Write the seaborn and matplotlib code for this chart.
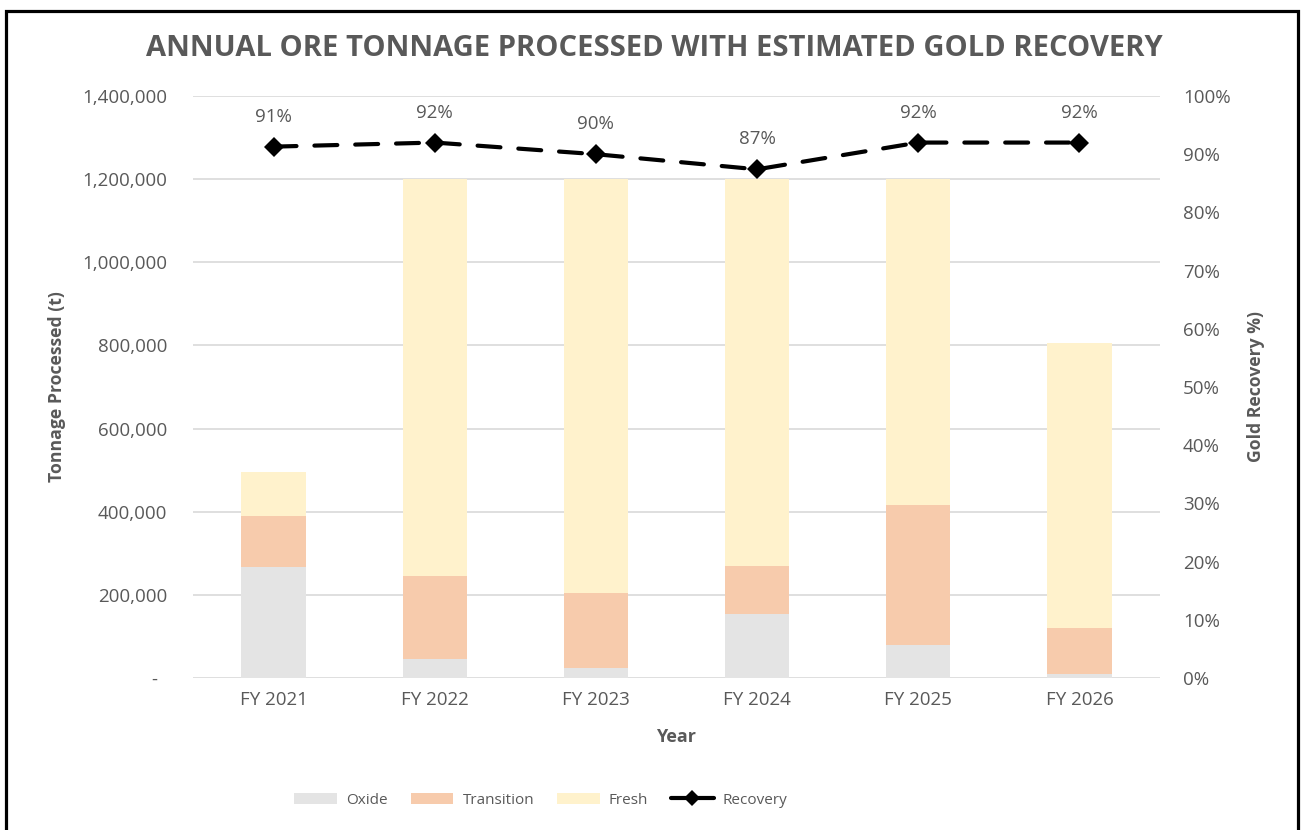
import numpy as np
import pandas as pd
import matplotlib
matplotlib.use("Agg")
import matplotlib.pyplot as plt
from matplotlib.patches import Patch, Rectangle
from matplotlib.lines import Line2D
from matplotlib.ticker import FuncFormatter, PercentFormatter, MultipleLocator
import seaborn as sns

# ---- data ----
years = ["FY 2021", "FY 2022", "FY 2023", "FY 2024", "FY 2025", "FY 2026"]
oxide = [268000, 45000, 25000, 155000, 80000, 10000]
transition = [122000, 200000, 180000, 115000, 335000, 110000]
fresh = [105000, 955000, 995000, 930000, 785000, 685000]
recovery = [0.913, 0.920, 0.900, 0.874, 0.920, 0.920]

C_OXIDE = "#E4E4E4"
C_TRANS = "#F7CBAC"
C_FRESH = "#FFF2CC"
TXT = "#595959"

sns.set_theme(style="white")
plt.rcParams["font.family"] = ["Open Sans", "DejaVu Sans"]

df = pd.DataFrame({"year": years, "oxide": oxide, "transition": transition,
                   "fresh": fresh, "recovery": recovery})
df["lvl2"] = df["oxide"] + df["transition"]
df["total"] = df["lvl2"] + df["fresh"]

fig = plt.figure(figsize=(13.01, 8.30), dpi=100)
ax = fig.add_axes([193 / 1301, 1 - 678 / 830, (1160 - 193) / 1301, (678 - 96) / 830])

for col, c in [("total", C_FRESH), ("lvl2", C_TRANS), ("oxide", C_OXIDE)]:
    sns.barplot(data=df, x="year", y=col, color=c, saturation=1, width=0.4,
                errorbar=None, ax=ax, linewidth=0)

ax.set_xlim(-0.5, len(years) - 0.5)
ax.set_ylim(0, 1400000)
ax.yaxis.set_major_locator(MultipleLocator(200000))
ax.yaxis.set_major_formatter(FuncFormatter(lambda v, p: "-  " if v == 0 else f"{v:,.0f}"))
ax.grid(axis="y", color="#D9D9D9", linewidth=1.2)
ax.grid(axis="x", visible=False)
ax.set_axisbelow(True)
for s in ax.spines.values():
    s.set_visible(False)
ax.tick_params(axis="y", length=0, pad=18.5, labelsize=13.5, labelcolor=TXT)
ax.tick_params(axis="x", length=0, pad=9, labelsize=13.5, labelcolor=TXT)
ax.set_ylabel("Tonnage Processed (t)", fontsize=12.7, fontweight="bold", color=TXT)
ax.set_xlabel("Year", fontsize=13, fontweight="bold", color=TXT)
ax.yaxis.set_label_coords((66 - 193) / 967, 0.5)
ax.xaxis.set_label_coords(0.5, -(728 - 678) / 582)

ax2 = ax.twinx()
sns.lineplot(x=np.arange(len(years)), y=df["recovery"], ax=ax2, color="black",
             linewidth=3, marker="D", markersize=10, markeredgewidth=0)
ln = ax2.lines[0]
ln.set_dashes((5.5, 4.3))
ln.set_dash_capstyle("round")
ax2.set_ylim(0, 1.0)
ax2.yaxis.set_major_locator(MultipleLocator(0.1))
ax2.yaxis.set_major_formatter(PercentFormatter(xmax=1, decimals=0))
ax2.grid(False)
for s in ax2.spines.values():
    s.set_visible(False)
ax2.tick_params(axis="y", length=0, pad=16.5, labelsize=13.5, labelcolor=TXT)
ax2.set_ylabel("Gold Recovery %)", fontsize=12.7, fontweight="bold", color=TXT)
ax2.yaxis.set_label_coords((1247 - 193) / 967, 0.5)
ax2.set_xlim(-0.5, len(years) - 0.5)

for i, v in enumerate(recovery):
    ax2.annotate(f"{v:.0%}", (i, v), xytext=(0, 21.5), textcoords="offset points",
                 ha="center", va="center", fontsize=13.5, color=TXT)

fig.text(0.503, 1 - 48 / 830, "ANNUAL ORE TONNAGE PROCESSED WITH ESTIMATED GOLD RECOVERY",
         ha="center", va="center", fontsize=21, fontweight="bold", color=TXT)

handles = [Patch(facecolor=C_OXIDE, edgecolor="none", label="Oxide"),
           Patch(facecolor=C_TRANS, edgecolor="none", label="Transition"),
           Patch(facecolor=C_FRESH, edgecolor="none", label="Fresh"),
           Line2D([], [], color="black", linewidth=3, marker="D", markersize=8,
                  markeredgewidth=0, label="Recovery")]
leg = fig.legend(handles=handles, loc="center", bbox_to_anchor=(541 / 1301, 1 - 800 / 830),
                 ncol=4, frameon=False, fontsize=11,
                 handlelength=2.8, handleheight=0.7,
                 handletextpad=0.59, columnspacing=1.5)
for t in leg.get_texts():
    t.set_color(TXT)

fig.add_artist(Rectangle((5.5 / 1301, -0.02), (1298 - 5.5) / 1301, 1 - 10.5 / 830 + 0.02,
                         transform=fig.transFigure, fill=False, edgecolor="black",
                         linewidth=2.3, clip_on=False))

fig.savefig("out.png", dpi=100, facecolor="white")
